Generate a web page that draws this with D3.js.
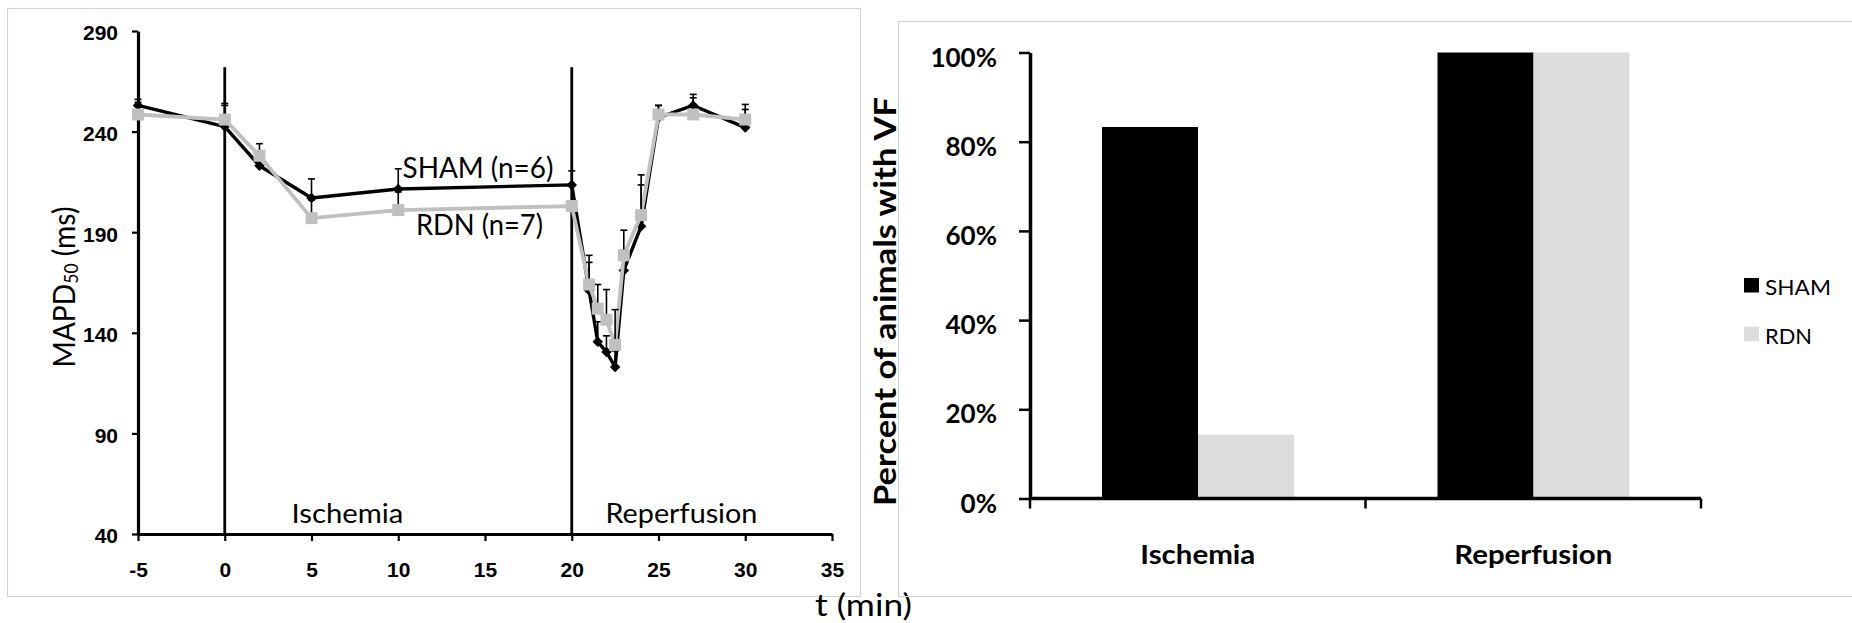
<!DOCTYPE html>
<html>
<head>
<meta charset="utf-8">
<script src="https://cdn.jsdelivr.net/npm/d3@7"></script>
<style>
  html, body { margin: 0; padding: 0; background: #fff; }
  svg { display: block; }
</style>
</head>
<body>
<svg id="chart" width="1852" height="623"></svg>
<script>
// ---------------- DATA ----------------
// Left panel: MAPD50 (ms) over time (min)
const times   = [-5, 0, 2, 5, 10, 20, 21, 21.5, 22, 22.5, 23, 24, 25, 27, 30];
const sham    = [253, 242.5, 223, 207, 211.5, 213.5, 161, 135.5, 130.5, 123, 171, 193, 247, 253, 242];
const shamErr = [3, 11.5, 5, 9.5, 10, 7, 14, 10, 8, 8, 10, 20.5, 6, 5.5, 11.5];
const rdn     = [248.5, 246, 228, 197, 201, 203, 164, 152, 146.5, 134, 178.5, 198.5, 248.5, 248.5, 246];
const rdnErr  = [6, 7, 6, 9, 9, 10, 14.5, 12, 15, 17.5, 12.5, 20, 4.5, 8.3, 5];
const xTicks  = [-5, 0, 5, 10, 15, 20, 25, 30, 35];
const yTicks  = [40, 90, 140, 190, 240, 290];
const phaseStarts = [0, 20];
const phaseLineTop = 272;
const phaseNames = ["Ischemia", "Reperfusion"];

// Right panel: percent of animals with VF
const barCats   = ["Ischemia", "Reperfusion"];
const barSeries = ["SHAM", "RDN"];
const barSham   = [0.833, 1.0];
const barRdn    = [0.143, 1.0];
const barTicks  = [0, 0.2, 0.4, 0.6, 0.8, 1.0];

// ---------------- STYLE ----------------
const BLACK = "#000";
const GRAY_LINE = "#c0c0c0";
const GRAY_BAR = "#dcdcdc";
const BOX = "#d2d2d2";

const svg = d3.select("#chart");
svg.append("rect").attr("width", 1852).attr("height", 623).attr("fill", "#fff");

function label(parent, str, o) {
  const t = parent.append("text")
    .attr("text-anchor", o.anchor || "start")
    .attr("font-family", o.family || "Lato")
    .attr("font-size", o.size)
    .attr("font-weight", o.weight || "normal")
    .attr("fill", "#000");
  if (o.sub) {
    t.append("tspan").text(str);
    t.append("tspan").attr("font-size", o.size * 0.62).attr("dy", o.size * 0.12).text(o.sub);
    t.append("tspan").attr("dy", -o.size * 0.12).text(o.rest);
  } else {
    t.text(str);
  }
  const len = t.node().getComputedTextLength();
  const s = o.w ? o.w / len : 1;
  t.attr("transform", `translate(${o.x},${o.y}) rotate(${o.rot || 0}) scale(${s},1)`);
  return t;
}

// ---------------- LEFT PANEL ----------------
const L = svg.append("g");
L.append("rect").attr("x", 7.5).attr("y", 8.5).attr("width", 853).attr("height", 588)
  .attr("fill", "none").attr("stroke", BOX).attr("stroke-width", 1.2);

const x = d3.scaleLinear().domain([-5, 35]).range([138, 832]);
const y = d3.scaleLinear().domain([40, 290]).range([534, 31]);

// phase lines
L.selectAll("line.phase").data(phaseStarts).join("line")
  .attr("class", "phase")
  .attr("x1", d => x(d)).attr("x2", d => x(d))
  .attr("y1", y(phaseLineTop)).attr("y2", y(40))
  .attr("stroke", BLACK).attr("stroke-width", 2.8);

// axes
const xAxis = L.append("g").attr("transform", `translate(0,${y(40)})`)
  .call(d3.axisBottom(x).tickValues(xTicks).tickFormat(d => String(d))
    .tickSize(7).tickSizeOuter(0).tickPadding(21));
const yAxis = L.append("g").attr("transform", `translate(${x(-5)},0)`)
  .call(d3.axisLeft(y).tickValues(yTicks).tickFormat(d => String(d))
    .tickSize(6).tickSizeOuter(0).tickPadding(14));
[xAxis, yAxis].forEach(a => {
  a.select(".domain").attr("stroke", BLACK).attr("stroke-width", 3.2);
  a.selectAll(".tick line").attr("stroke", BLACK).attr("stroke-width", 2.2);
  a.selectAll(".tick text").attr("font-family", "Liberation Sans").attr("font-weight", "bold")
    .attr("font-size", 21).attr("fill", BLACK);
});
yAxis.selectAll(".tick text").attr("dy", "0.42em");

// series
const shamPts = times.map((t, i) => ({ t, v: sham[i], e: shamErr[i] }));
const rdnPts  = times.map((t, i) => ({ t, v: rdn[i], e: rdnErr[i] }));
const line = d3.line().x(d => x(d.t)).y(d => y(d.v));

function drawErr(pts) {
  const g = L.append("g").attr("stroke", BLACK).attr("stroke-width", 1.6);
  g.selectAll("line.stem").data(pts).join("line")
    .attr("x1", d => x(d.t)).attr("x2", d => x(d.t))
    .attr("y1", d => y(d.v)).attr("y2", d => y(d.v + d.e));
  g.selectAll("line.cap").data(pts).join("line")
    .attr("x1", d => x(d.t) - 3.5).attr("x2", d => x(d.t) + 3.5)
    .attr("y1", d => y(d.v + d.e)).attr("y2", d => y(d.v + d.e));
}

// SHAM
L.append("path").datum(shamPts).attr("d", line).attr("fill", "none")
  .attr("stroke", BLACK).attr("stroke-width", 3.4).attr("stroke-linejoin", "round");
drawErr(shamPts);
L.selectAll("path.dia").data(shamPts).join("path").attr("class", "dia")
  .attr("d", d3.symbol(d3.symbolDiamond2, 70))
  .attr("transform", d => `translate(${x(d.t)},${y(d.v)})`)
  .attr("fill", BLACK);

// RDN
L.append("path").datum(rdnPts).attr("d", line).attr("fill", "none")
  .attr("stroke", GRAY_LINE).attr("stroke-width", 3.8).attr("stroke-linejoin", "round");
drawErr(rdnPts);
L.selectAll("rect.sq").data(rdnPts).join("rect").attr("class", "sq")
  .attr("x", d => x(d.t) - 6).attr("y", d => y(d.v) - 6)
  .attr("width", 12).attr("height", 12).attr("fill", GRAY_LINE);

// annotations
label(L, "SHAM (n=6)", { x: 402.5, y: 178, size: 28, w: 151 });
label(L, "RDN (n=7)", { x: 416, y: 235, size: 28, w: 127 });
label(L, phaseNames[0], { x: 291.5, y: 523, size: 26, w: 112 });
label(L, phaseNames[1], { x: 605.5, y: 523, size: 26, w: 152 });
label(L, "MAPD", { x: 74.5, y: 287, rot: -90, anchor: "middle", size: 30, w: 161, sub: "50", rest: " (ms)" });
label(svg, "t (min)", { x: 815, y: 616, size: 30, w: 97 });

// ---------------- RIGHT PANEL ----------------
const R = svg.append("g");
R.append("rect").attr("x", 898.5).attr("y", 21.5).attr("width", 970).attr("height", 575)
  .attr("fill", "none").attr("stroke", BOX).attr("stroke-width", 1.2);

const xb = d3.scaleBand().domain(barCats).range([1030, 1701]).padding(0);
const bw = xb.bandwidth();
const xs = d3.scaleBand().domain(barSeries).range([bw * 0.2146, bw * 0.7869]).padding(0);
const yb = d3.scaleLinear().domain([0, 1]).range([498.5, 52.5]);

const barData = [];
barCats.forEach((c, i) => {
  barData.push({ c, s: "SHAM", v: barSham[i] });
  barData.push({ c, s: "RDN", v: barRdn[i] });
});
R.selectAll("rect.bar").data(barData).join("rect").attr("class", "bar")
  .attr("x", d => xb(d.c) + xs(d.s)).attr("width", xs.bandwidth())
  .attr("y", d => yb(d.v)).attr("height", d => yb(0) - yb(d.v))
  .attr("fill", d => d.s === "SHAM" ? BLACK : GRAY_BAR);

// y axis
const yAxisR = R.append("g").attr("transform", `translate(${xb.range()[0]},0)`)
  .call(d3.axisLeft(yb).tickValues(barTicks).tickFormat(d3.format(".0%"))
    .tickSize(11).tickSizeOuter(0).tickPadding(22));
yAxisR.select(".domain").attr("stroke", BLACK).attr("stroke-width", 3.5);
yAxisR.selectAll(".tick line").attr("stroke", BLACK).attr("stroke-width", 2.5);
yAxisR.selectAll(".tick text").attr("font-family", "Lato").attr("font-weight", "bold")
  .attr("font-size", 26).attr("fill", BLACK).attr("dy", "0.52em");

// x axis (category boundaries)
const edges = barCats.map(c => xb(c)).concat([xb.range()[1]]);
R.append("line").attr("x1", xb.range()[0]).attr("x2", xb.range()[1])
  .attr("y1", yb(0)).attr("y2", yb(0)).attr("stroke", BLACK).attr("stroke-width", 3.5);
R.selectAll("line.edge").data(edges).join("line").attr("class", "edge")
  .attr("x1", d => d).attr("x2", d => d).attr("y1", yb(0)).attr("y2", yb(0) + 10)
  .attr("stroke", BLACK).attr("stroke-width", 2.5);
label(R, barCats[0], { x: xb(barCats[0]) + bw / 2, y: yb(0) + 65.5, anchor: "middle", size: 27, weight: "bold", w: 115 });
label(R, barCats[1], { x: xb(barCats[1]) + bw / 2, y: yb(0) + 65.5, anchor: "middle", size: 27, weight: "bold", w: 158 });

// y title
label(R, "Percent of animals with VF", { x: 896, y: 301.5, rot: -90, anchor: "middle", size: 31, weight: "bold", w: 409 });

// legend
const legY = [278, 326.7];
barSeries.forEach((s, i) => {
  R.append("rect").attr("x", 1744).attr("y", legY[i]).attr("width", 15).attr("height", 14.5)
    .attr("fill", s === "SHAM" ? BLACK : GRAY_BAR);
  label(R, s, { x: 1765, y: legY[i] + 17, size: 22, w: s === "SHAM" ? 66 : 47 });
});
</script>
</body>
</html>
